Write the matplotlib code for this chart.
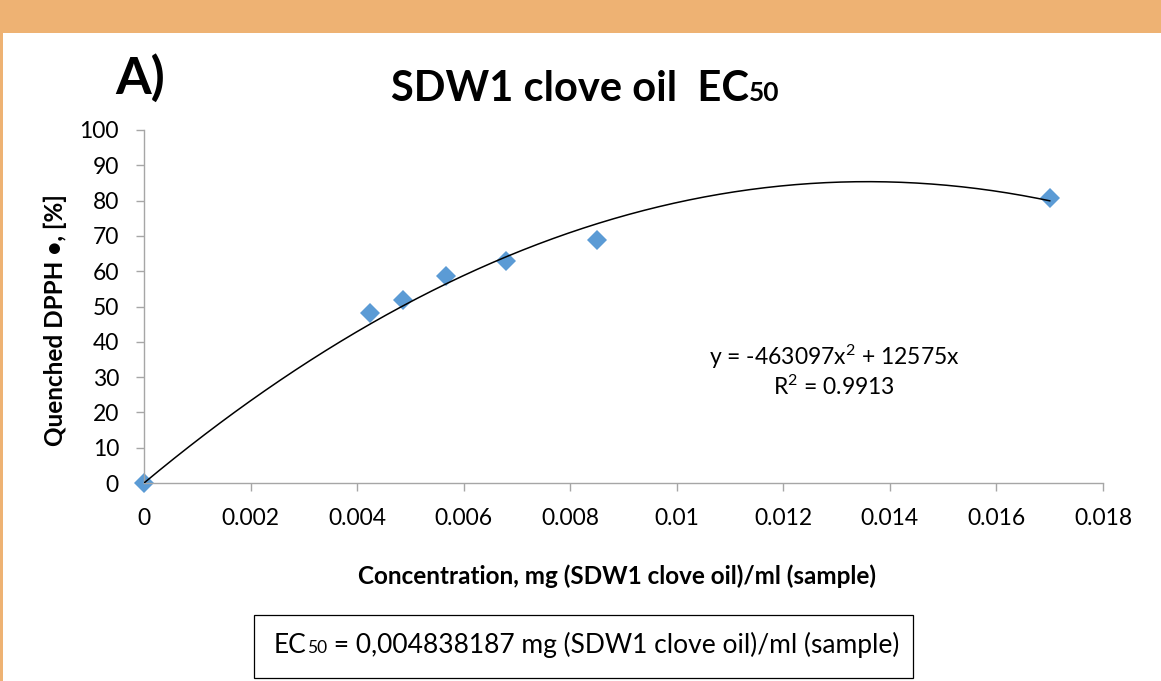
import numpy as np
import matplotlib
matplotlib.use("Agg")
import matplotlib.pyplot as plt
from matplotlib.patches import Rectangle

# ---- data ----
conc = [0.0, 0.00425, 0.00486, 0.00567, 0.0068, 0.0085, 0.017]
quenched = [0.0, 48.2, 51.8, 58.6, 62.9, 68.8, 80.7]
coef_a = -463097
coef_b = 12575
r2 = 0.9913
xticks = [0, 0.002, 0.004, 0.006, 0.008, 0.01, 0.012, 0.014, 0.016, 0.018]
xticklabels = ["0", "0.002", "0.004", "0.006", "0.008", "0.01", "0.012", "0.014", "0.016", "0.018"]
yticks = list(range(0, 101, 10))

plt.rcParams['font.family'] = ['Lato', 'DejaVu Sans']
plt.rcParams['mathtext.fontset'] = 'custom'
plt.rcParams['mathtext.rm'] = 'Lato'

W, H = 1161, 681
fig = plt.figure(figsize=(W / 100, H / 100), dpi=100)

# orange frame
fig.patches.append(Rectangle((0, 1 - 33 / H), 1, 33 / H, transform=fig.transFigure,
                             facecolor='#EEB273', edgecolor='none', zorder=0))
fig.patches.append(Rectangle((0, 0), 3 / W, 1, transform=fig.transFigure,
                             facecolor='#EEB273', edgecolor='none', zorder=0))

ax = fig.add_axes([144 / W, 1 - 483 / H, (1103 - 144) / W, (483 - 130) / H])
ax.set_xlim(0, 0.018)
ax.set_ylim(0, 100)

# trendline
xs = np.linspace(0, max(conc), 300)
ax.plot(xs, coef_a * xs ** 2 + coef_b * xs, color='black', lw=1.1, zorder=3)
ax.plot(conc, quenched, linestyle='none', marker='D', markersize=10,
        color='#5B9BD5', markeredgewidth=0, zorder=2, clip_on=False)

for s in ['top', 'right']:
    ax.spines[s].set_visible(False)
for s in ['left', 'bottom']:
    ax.spines[s].set_color('#A6A6A6')
    ax.spines[s].set_linewidth(1.0)

ax.set_xticks(xticks)
ax.set_xticklabels(xticklabels)
ax.set_yticks(yticks)
ax.tick_params(axis='both', colors='#A6A6A6', labelcolor='black', labelsize=16.5,
               length=6, width=1.0, direction='out')
ax.tick_params(axis='x', pad=12)
ax.tick_params(axis='y', pad=12)

fig.text(617 / W, 1 - 576 / H, "Concentration, mg (SDW1 clove oil)/ml (sample)",
         fontsize=17.5, fontweight='bold', ha='center', va='center')
fig.text(55 / W, 1 - 320 / H, "Quenched DPPH \u2022, [%]", fontsize=17.5,
         fontweight='bold', ha='center', va='center', rotation=90)

ax.text(0.7195, 0.357, f"y = {coef_a}x$\\mathregular{{^2}}$ + {coef_b}x", transform=ax.transAxes,
        ha='center', va='center', fontsize=16.5)
ax.text(0.7195, 0.272, f"R$\\mathregular{{^2}}$ = {r2}", transform=ax.transAxes,
        ha='center', va='center', fontsize=16.5)

# "A)" label
fig.text(115 / W, 1 - 94 / H, "A)", fontsize=37, fontweight='bold', va='baseline', ha='left')

fig.canvas.draw()
renderer = fig.canvas.get_renderer()


def chain(parts, x0, y0, **kw):
    """Draw text pieces side by side at a common baseline (figure pixels)."""
    x = x0
    arts = []
    for txt, size in parts:
        t = fig.text(x / W, 1 - y0 / H, txt, fontsize=size, va='baseline', ha='left', **kw)
        bb = t.get_window_extent(renderer)
        x = bb.x1
        arts.append(t)
    return arts


# title
title_parts = [("SDW1 clove oil  EC", 30), ("50", 19)]
tmp = chain(title_parts, 0, 101, fontweight='bold')
total = tmp[-1].get_window_extent(renderer).x1 - tmp[0].get_window_extent(renderer).x0
for t in tmp:
    t.remove()
chain(title_parts, 585 - total / 2, 101, fontweight='bold')

# EC50 box
fig.patches.append(Rectangle((254 / W, 1 - 678 / H), (913 - 254) / W, (678 - 615) / H,
                             transform=fig.transFigure, facecolor='white',
                             edgecolor='black', lw=0.9, zorder=1))
box_parts = [("EC", 19), ("50", 12.5), (" = 0,004838187 mg (SDW1 clove oil)/ml (sample)", 19)]
chain(box_parts, 274, 653, zorder=2)

fig.savefig("out.png", dpi=100)
